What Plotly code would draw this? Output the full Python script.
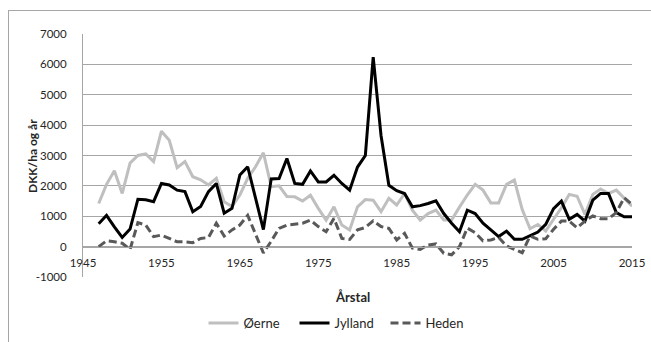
import plotly.graph_objects as go

years = list(range(1947, 2016))

oerne = [1420, 2050, 2500, 1750, 2750, 3000, 3050, 2800, 3800, 3500,
         2600, 2800, 2300, 2200, 2030, 2250, 1480, 1320, 1700, 2250,
         2630, 3090, 1975, 2000, 1650, 1640, 1500, 1690, 1260, 870,
         1310, 710, 550, 1310, 1550, 1530, 1150, 1590, 1370, 1750,
         1200, 875, 1090, 1200, 875, 875, 1300, 1700, 2050, 1860,
         1440, 1440, 2050, 2190, 1225, 590, 730, 510, 900, 1280,
         1720, 1660, 1060, 1720, 1900, 1750, 1860, 1610, 1330]

jylland = [750, 1030, 650, 300, 580, 1560, 1540, 1480, 2080, 2030,
           1860, 1810, 1150, 1320, 1810, 2080, 1100, 1260, 2360, 2630,
           1600, 560, 2230, 2240, 2900, 2080, 2050, 2490, 2130, 2130,
           2350, 2080, 1860, 2620, 3000, 6240, 3660, 2020, 1840, 1750,
           1310, 1350, 1420, 1510, 1090, 770, 490, 1200, 1090, 770,
           550, 330, 510, 240, 240, 370, 480, 730, 1250, 1500,
           900, 1060, 840, 1530, 1750, 1750, 1120, 985, 985]

heden = [0, 190, 160, 110, -90, 790, 710, 330, 380, 270,
         160, 160, 130, 270, 300, 770, 350, 550, 710, 1030,
         400, -210, 180, 600, 710, 730, 770, 870, 660, 490,
         930, 270, 240, 550, 630, 850, 660, 600, 220, 440,
         -50, -90, 55, 90, -220, -270, 0, 610, 460, 190,
         220, 300, 20, -90, -200, 350, 240, 260, 570, 840,
         840, 620, 840, 1010, 920, 920, 1120, 1610, 1390]

x_ticks = [1945, 1955, 1965, 1975, 1985, 1995, 2005, 2015]
y_ticks = [-1000, 0, 1000, 2000, 3000, 4000, 5000, 6000, 7000]

FONT = "Lato"
TXT = "#262626"
GRID = "#A6A6A6"

fig = go.Figure()
fig.add_trace(go.Scatter(x=years, y=oerne, name="Øerne", mode="lines",
                         line=dict(color="#BFBFBF", width=3)))
fig.add_trace(go.Scatter(x=years, y=jylland, name="Jylland", mode="lines",
                         line=dict(color="#000000", width=3)))
fig.add_trace(go.Scatter(x=years, y=heden, name="Heden", mode="lines",
                         line=dict(color="#595959", width=3, dash="8px,4px")))

W, H = 651, 342
# paper origin placed at the chart frame (8, 10)
ML, MT = 8, 10
PW, PH = W - ML, H - MT


def px(xp):
    return (xp - ML) / PW


def py(yp):
    return (H - yp) / PH


zero_pos = py(247)

fig.update_layout(
    width=W, height=H,
    margin=dict(l=ML, r=0, t=MT, b=0, pad=0, autoexpand=False),
    paper_bgcolor="white", plot_bgcolor="rgba(0,0,0,0)",
    font=dict(family=FONT, size=12, color=TXT),
    showlegend=True,
    legend=dict(orientation="h", x=px(340), xanchor="center", y=py(323), yanchor="middle",
                font=dict(family=FONT, size=13, color=TXT),
                entrywidth=46, entrywidthmode="pixels",
                itemwidth=30, tracegroupgap=0, bgcolor="rgba(0,0,0,0)"),
    xaxis=dict(domain=[px(83), px(632)],
               range=[1945, 2015], tickvals=x_ticks, ticktext=[str(t) for t in x_ticks],
               showgrid=False, zeroline=False, showline=True, linecolor=GRID, linewidth=1,
               anchor="free", position=zero_pos, ticks="", ticklen=0,
               ticklabelstandoff=5, automargin=False,
               tickfont=dict(family=FONT, size=11.5, color=TXT)),
    yaxis=dict(domain=[py(277), py(34)],
               range=[-1000, 7000], tickvals=y_ticks, ticktext=[str(t) for t in y_ticks],
               showgrid=True, gridcolor=GRID, gridwidth=1, zeroline=False,
               showline=True, linecolor=GRID, linewidth=1, ticks="",
               ticklabelstandoff=13, automargin=False,
               tickfont=dict(family=FONT, size=11.5, color=TXT)),
    annotations=[
        dict(text="<b>DKK/ha og år</b>", textangle=-90, xref="paper", yref="paper",
             x=px(32), y=py(156), xanchor="center", yanchor="middle",
             showarrow=False, font=dict(family=FONT, size=12, color=TXT)),
        dict(text="<b>Årstal</b>", xref="paper", yref="paper",
             x=px(352), y=py(297),
             xanchor="center", yanchor="middle", showarrow=False,
             font=dict(family=FONT, size=13, color=TXT)),
    ],
)

frame_js = (
    "document.body.style.margin='0px';"
    "document.body.style.overflow='hidden';"
    "var f=document.createElement('div');"
    "f.style.cssText='position:absolute;left:8px;top:10px;width:800px;height:500px;"
    "border-top:1px solid #A6A6A6;border-left:1px solid #A6A6A6;pointer-events:none;';"
    "document.body.appendChild(f);"
)

fig.write_html("out.html", config={"displayModeBar": False}, post_script=frame_js)
